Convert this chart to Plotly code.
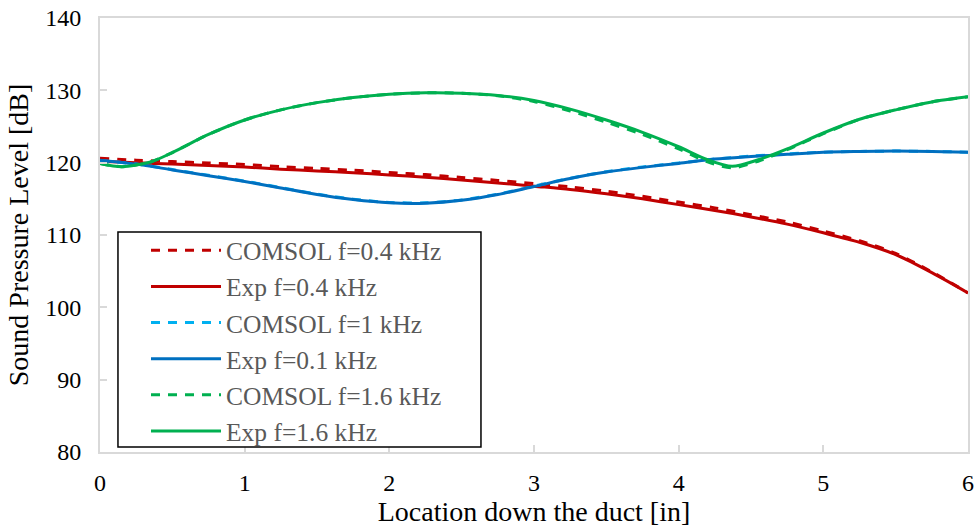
import plotly.graph_objects as go

# Measurement locations along the duct [in]
x_loc = [0, 0.25, 0.5, 0.75, 1, 1.25, 1.5, 1.75, 2, 2.25, 2.5, 2.75, 3,
         3.25, 3.5, 3.75, 4, 4.25, 4.5, 4.75, 5, 5.25, 5.5, 5.75, 6]
x_loc_16 = [0, 0.15, 0.35, 0.5, 0.75, 1, 1.25, 1.5, 1.75, 2, 2.25, 2.5, 2.75,
            3, 3.25, 3.5, 3.75, 4, 4.2, 4.37, 4.55, 4.75, 5, 5.25, 5.5, 5.75, 6]

# Sound pressure level [dB]
comsol_04 = [120.6, 120.35, 120.15, 119.95, 119.75, 119.45, 119.2, 118.95,
             118.65, 118.35, 117.95, 117.55, 117.1, 116.65, 116.05, 115.35,
             114.55, 113.75, 112.8, 111.8, 110.55, 109.2, 107.45, 104.9, 102.0]
exp_04 = [120.2, 120.0, 119.8, 119.6, 119.4, 119.1, 118.85, 118.6, 118.3,
          118.0, 117.6, 117.2, 116.75, 116.3, 115.7, 115.0, 114.2, 113.4,
          112.5, 111.5, 110.3, 109.0, 107.3, 104.8, 102.0]
comsol_1 = [120.3, 119.8, 119.05, 118.25, 117.45, 116.55, 115.65, 114.95,
            114.5, 114.45, 114.85, 115.65, 116.75, 117.85, 118.75, 119.4,
            119.95, 120.5, 120.9, 121.2, 121.45, 121.55, 121.6, 121.55, 121.45]
exp_01 = [120.35, 119.8, 119.0, 118.2, 117.4, 116.5, 115.6, 114.9, 114.45,
          114.4, 114.8, 115.6, 116.7, 117.8, 118.7, 119.35, 119.9, 120.5,
          120.85, 121.15, 121.45, 121.55, 121.6, 121.55, 121.45]
comsol_16 = [119.9, 119.45, 120.1, 121.4, 123.9, 125.9, 127.3, 128.3, 129.0,
             129.45, 129.65, 129.6, 129.25, 128.45, 127.15, 125.6, 123.9,
             121.9, 120.1, 119.3, 120.2, 121.8, 124.0, 126.0, 127.3, 128.4, 129.1]
exp_16 = [119.9, 119.45, 120.1, 121.4, 123.9, 125.9, 127.3, 128.3, 129.0,
          129.45, 129.65, 129.6, 129.3, 128.6, 127.4, 125.9, 124.2, 122.2,
          120.4, 119.5, 120.4, 121.9, 124.1, 126.0, 127.3, 128.4, 129.1]

x_ticks = [0, 1, 2, 3, 4, 5, 6]
y_ticks = [80, 90, 100, 110, 120, 130, 140]

RED = "#C00000"
BLUE = "#0070C0"
LIGHT_BLUE = "#00B0F0"
GREEN = "#00B050"
DASH = "9px,8px"
FONT = "Liberation Serif, Times New Roman, serif"

series = [
    ("COMSOL f=0.4 kHz", x_loc, comsol_04, RED, DASH),
    ("Exp f=0.4 kHz", x_loc, exp_04, RED, "solid"),
    ("COMSOL f=1 kHz", x_loc, comsol_1, LIGHT_BLUE, DASH),
    ("Exp f=0.1 kHz", x_loc, exp_01, BLUE, "solid"),
    ("COMSOL f=1.6 kHz", x_loc_16, comsol_16, GREEN, DASH),
    ("Exp f=1.6 kHz", x_loc_16, exp_16, GREEN, "solid"),
]

fig = go.Figure()
for name, xs, ys, color, dash in series:
    fig.add_trace(go.Scatter(
        x=xs, y=ys, name=name, mode="lines",
        line=dict(color=color, width=3, dash=dash, shape="spline", smoothing=0.8),
    ))

axis_common = dict(
    showgrid=False, zeroline=False, automargin=False,
    showline=True, linecolor="#D9D9D9", linewidth=2, mirror=True,
    ticks="inside", ticklen=7, tickwidth=1.5, tickcolor="#D9D9D9",
    tickfont=dict(family=FONT, size=24, color="black"),
)

# Framed box behind the legend (paper coordinates of the plot area)
legend_frame = dict(
    type="rect", xref="paper", yref="paper",
    x0=0.0207, x1=0.4389, y0=0.0115, y1=0.507,
    line=dict(color="black", width=1.5), fillcolor="white", layer="above",
)

fig.update_layout(
    width=977, height=531,
    margin=dict(l=100, r=9, t=18, b=79),
    paper_bgcolor="white", plot_bgcolor="white",
    font=dict(family=FONT, color="black"),
    xaxis=dict(
        range=[0, 6], tickvals=x_ticks, ticktext=[str(v) for v in x_ticks],
        ticklabelstandoff=8,
        title=dict(text="Location down the duct [in]",
                   font=dict(family=FONT, size=28, color="black"), standoff=6),
        **axis_common,
    ),
    yaxis=dict(
        range=[80, 140], tickvals=y_ticks, ticktext=[str(v) for v in y_ticks],
        ticklabelstandoff=12,
        title=dict(text="Sound Pressure Level [dB]",
                   font=dict(family=FONT, size=28, color="black"), standoff=8),
        **axis_common,
    ),
    shapes=[legend_frame],
    legend=dict(
        x=0.0530, y=0.518, xanchor="left", yanchor="top",
        bgcolor="rgba(0,0,0,0)", borderwidth=0,
        font=dict(family=FONT, size=25.5, color="#595959"),
        itemwidth=70, tracegroupgap=0,
    ),
    showlegend=True,
)

fig.write_html("out.html")
